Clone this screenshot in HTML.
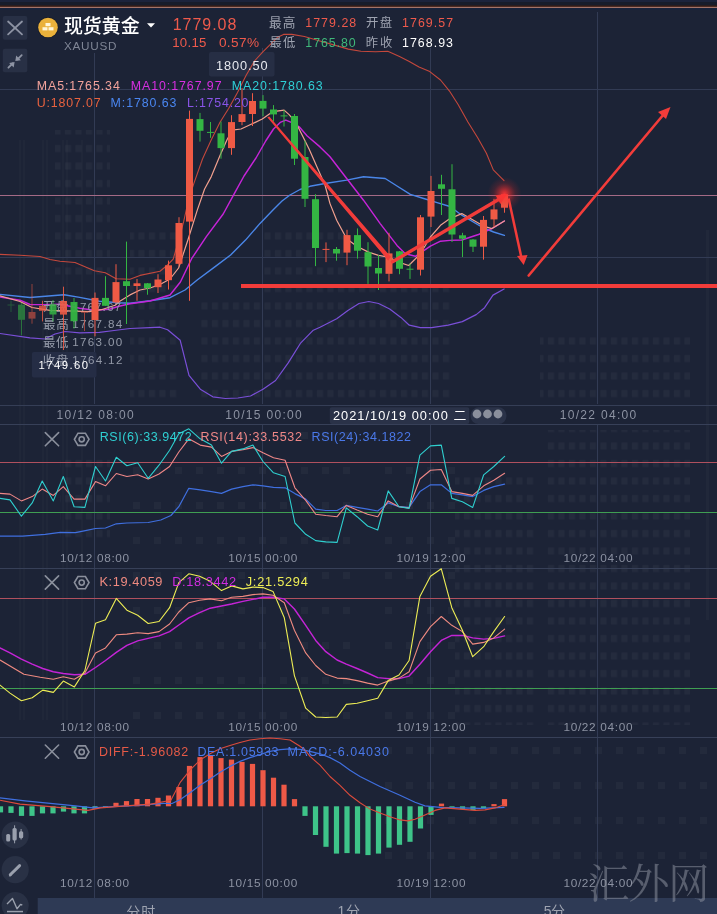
<!DOCTYPE html>
<html><head><meta charset="utf-8">
<style>
html,body{margin:0;padding:0;background:#1c2336;}
body{width:717px;height:914px;position:relative;overflow:hidden;font-family:"Liberation Sans","Noto Sans CJK SC",sans-serif;}
.t{position:absolute;white-space:nowrap;line-height:1;}
svg{position:absolute;left:0;top:0;}
</style></head><body>
<div style="position:absolute;left:0;top:0;width:717px;height:2px;background:#1b233c"></div>
<div style="position:absolute;left:0;top:2px;width:717px;height:3px;background:#171c2b"></div>
<div style="position:absolute;left:0;top:5px;width:717px;height:1px;background:#2a1c1e"></div>
<div style="position:absolute;left:0;top:6px;width:717px;height:1px;background:#4a2a22"></div>
<div style="position:absolute;left:0;top:7px;width:717px;height:1px;background:#a2736a"></div>
<div style="position:absolute;left:0;top:8px;width:717px;height:2px;background:#17223b"></div>
<svg width="717" height="914" viewBox="0 0 717 914">
<defs><pattern id="win" x="0" y="0" width="10.5" height="17.5" patternUnits="userSpaceOnUse"><rect x="2" y="5" width="6" height="7" fill="#ffffff" fill-opacity="0.035"/></pattern><pattern id="win2" x="0" y="0" width="21" height="35" patternUnits="userSpaceOnUse"><rect x="7" y="12" width="7" height="7" fill="#ffffff" fill-opacity="0.03"/></pattern></defs>
<rect x="55" y="130" width="55" height="155" fill="url(#win)"/>
<rect x="130" y="225" width="50" height="179" fill="url(#win)"/>
<rect x="200" y="300" width="62" height="104" fill="url(#win)"/>
<rect x="262" y="225" width="83" height="179" fill="url(#win)"/>
<rect x="345" y="285" width="105" height="119" fill="url(#win)"/>
<rect x="540" y="330" width="150" height="74" fill="url(#win)"/>
<rect x="455" y="470" width="80" height="255" fill="url(#win)"/>
<rect x="544" y="430" width="146" height="295" fill="url(#win)"/>
<rect x="60" y="452" width="50" height="93" fill="url(#win)"/>
<rect x="120" y="430" width="240" height="295" fill="url(#win2)"/>
<rect x="380" y="440" width="75" height="285" fill="url(#win2)"/>
<rect x="380" y="745" width="337" height="125" fill="url(#win2)"/>
<rect x="19" y="140" width="2" height="580" fill="#ffffff" fill-opacity="0.02"/>
<rect x="23" y="140" width="2" height="580" fill="#ffffff" fill-opacity="0.02"/>
<rect x="42" y="140" width="2" height="580" fill="#ffffff" fill-opacity="0.02"/>
<rect x="46" y="140" width="2" height="580" fill="#ffffff" fill-opacity="0.02"/>
<rect x="62" y="140" width="2" height="580" fill="#ffffff" fill-opacity="0.02"/>
<rect x="66" y="140" width="2" height="580" fill="#ffffff" fill-opacity="0.02"/>
<rect x="81" y="140" width="2" height="580" fill="#ffffff" fill-opacity="0.02"/>
<rect x="706" y="230" width="3" height="390" fill="#ffffff" fill-opacity="0.025"/>
<line x1="94.5" y1="53" x2="94.5" y2="404" stroke="#323b54" stroke-width="1"/>
<line x1="94.5" y1="425" x2="94.5" y2="568" stroke="#323b54" stroke-width="1"/>
<line x1="94.5" y1="569" x2="94.5" y2="737" stroke="#323b54" stroke-width="1"/>
<line x1="94.5" y1="738" x2="94.5" y2="898" stroke="#323b54" stroke-width="1"/>
<line x1="262.5" y1="48" x2="262.5" y2="404" stroke="#323b54" stroke-width="1"/>
<line x1="262.5" y1="425" x2="262.5" y2="568" stroke="#323b54" stroke-width="1"/>
<line x1="262.5" y1="569" x2="262.5" y2="737" stroke="#323b54" stroke-width="1"/>
<line x1="262.5" y1="738" x2="262.5" y2="898" stroke="#323b54" stroke-width="1"/>
<line x1="430.5" y1="48" x2="430.5" y2="404" stroke="#323b54" stroke-width="1"/>
<line x1="430.5" y1="425" x2="430.5" y2="568" stroke="#323b54" stroke-width="1"/>
<line x1="430.5" y1="569" x2="430.5" y2="737" stroke="#323b54" stroke-width="1"/>
<line x1="430.5" y1="738" x2="430.5" y2="898" stroke="#323b54" stroke-width="1"/>
<line x1="597.5" y1="12" x2="597.5" y2="404" stroke="#323b54" stroke-width="1"/>
<line x1="597.5" y1="425" x2="597.5" y2="568" stroke="#323b54" stroke-width="1"/>
<line x1="597.5" y1="569" x2="597.5" y2="737" stroke="#323b54" stroke-width="1"/>
<line x1="597.5" y1="738" x2="597.5" y2="898" stroke="#323b54" stroke-width="1"/>
<line x1="0" y1="89.5" x2="717" y2="89.5" stroke="#323b54" stroke-width="1"/>
<line x1="0" y1="257.5" x2="717" y2="257.5" stroke="#323b54" stroke-width="1"/>
<line x1="0" y1="405.5" x2="717" y2="405.5" stroke="#353e56" stroke-width="1"/>
<rect x="209" y="52" width="65.5" height="24.5" rx="2" fill="#262e44"/>
<rect x="31.9" y="352" width="64.6" height="25.5" rx="2" fill="#252d45"/>
<line x1="0" y1="195.5" x2="717" y2="195.5" stroke="#a46a86" stroke-width="1"/>
<line x1="0" y1="424.5" x2="717" y2="424.5" stroke="#374058" stroke-width="1"/>
<line x1="0" y1="568.5" x2="717" y2="568.5" stroke="#374058" stroke-width="1"/>
<line x1="0" y1="737.5" x2="717" y2="737.5" stroke="#374058" stroke-width="1"/>
<line x1="0" y1="462.5" x2="717" y2="462.5" stroke="#b0505e" stroke-width="1"/>
<line x1="0" y1="512.5" x2="717" y2="512.5" stroke="#3f9e52" stroke-width="1"/>
<line x1="0" y1="598.5" x2="717" y2="598.5" stroke="#b0505e" stroke-width="1"/>
<line x1="0" y1="688.5" x2="717" y2="688.5" stroke="#3f9e52" stroke-width="1"/>
<polyline points="0.0,333.5 30.0,337.8 45.0,339.0 55.0,334.0 65.0,331.5 79.7,332.8 99.4,332.3 114.1,330.5 130.0,328.5 150.0,327.6 160.0,327.2 167.6,329.7 180.2,340.3 189.0,375.4 200.3,389.2 212.8,396.8 225.4,398.5 237.9,398.0 250.5,396.0 263.0,389.2 275.6,380.5 288.2,362.9 300.8,342.8 313.3,330.2 320.0,327.2 336.7,318.8 347.9,310.4 359.0,303.5 368.8,301.5 378.6,303.5 389.7,309.0 400.9,317.4 409.3,325.2 420.4,327.7 431.6,327.7 448.3,325.2 462.3,321.6 476.2,314.6 484.6,307.7 493.0,295.1 504.1,289.0" fill="none" stroke="#7a4fd8" stroke-width="1.2" stroke-linejoin="round" stroke-linecap="round" opacity="1"/>
<polyline points="0.0,254.4 20.0,255.2 40.0,256.5 50.0,259.5 60.0,261.2 75.0,262.5 94.4,270.8 105.3,272.8 116.1,278.7 130.0,279.2 140.0,275.4 160.0,271.2 167.0,265.5 173.2,259.1 178.5,241.0 183.7,221.4 188.5,200.0 193.8,183.6 202.5,159.0 211.3,139.8 220.0,122.3 228.8,108.3 237.5,92.5 246.3,75.0 254.5,61.0 262.6,52.2 270.9,43.8 277.2,37.6 283.5,34.4 291.8,34.4 304.4,36.5 319.0,40.7 333.7,44.9 348.3,49.1 360.9,51.2 375.5,51.8 387.8,51.3 399.5,56.6 409.3,61.5 419.0,67.0 429.8,71.6 440.5,80.0 449.3,90.8 458.1,104.5 467.9,122.0 477.7,137.7 486.4,153.3 493.3,169.9 504.0,180.6" fill="none" stroke="#c4483c" stroke-width="1.1" stroke-linejoin="round" stroke-linecap="round" opacity="1"/>
<polyline points="0.0,294.4 30.0,297.5 64.0,294.8 79.7,297.4 99.4,301.3 119.0,302.8 130.0,303.3 150.0,300.8 170.0,297.7 185.0,290.0 197.2,280.0 215.8,266.1 230.6,255.0 245.5,240.1 260.0,223.4 272.0,211.0 282.0,201.0 290.0,195.0 300.0,189.5 310.0,186.3 325.0,183.5 346.7,180.1 363.5,176.8 385.2,178.5 397.0,186.0 410.3,194.4 423.7,198.5 437.1,202.7 450.0,206.5 461.8,215.2 481.8,227.0 493.6,232.0 504.4,235.3" fill="none" stroke="#4a86e8" stroke-width="1.4" stroke-linejoin="round" stroke-linecap="round" opacity="1"/>
<polyline points="0.0,296.9 20.0,300.2 30.0,304.5 45.0,304.6 60.0,304.3 79.7,308.2 94.4,310.2 109.2,309.2 119.0,306.3 130.0,303.8 150.0,301.0 170.0,295.0 180.4,282.0 191.6,258.7 206.5,236.4 223.2,214.0 234.3,193.6 244.0,176.0 256.0,158.0 265.7,141.0 273.5,129.0 280.2,122.4 285.8,120.1 291.3,122.4 299.2,126.8 307.0,135.8 320.0,146.9 330.0,156.7 346.7,178.5 363.5,200.2 380.2,223.6 397.0,245.4 405.3,253.8 415.4,256.3 430.4,246.2 440.5,241.2 450.0,240.4 461.8,240.0 478.5,234.5 491.9,228.6 504.4,221.0" fill="none" stroke="#c624d8" stroke-width="1.45" stroke-linejoin="round" stroke-linecap="round" opacity="1"/>
<polyline points="0.0,295.8 20.0,301.5 32.0,307.5 50.0,310.3 74.8,311.2 89.5,311.7 101.3,309.7 115.1,305.3 121.0,300.4 130.0,294.9 140.0,290.0 150.0,288.0 160.0,284.5 170.0,279.0 178.6,268.0 187.9,240.0 197.2,210.4 204.6,189.0 211.3,176.6 220.0,155.6 227.0,139.8 232.3,130.2 241.0,129.0 251.2,124.3 262.3,119.0 270.1,113.4 276.8,111.2 284.1,110.1 289.1,114.6 295.8,122.4 302.5,135.8 309.2,149.2 317.0,167.0 325.0,185.0 330.0,203.6 336.7,220.3 346.7,238.7 356.8,246.2 368.5,252.1 378.5,255.4 388.6,257.1 398.6,262.1 408.7,265.5 420.4,253.8 430.4,237.0 440.5,225.3 450.0,218.6 461.8,213.6 483.5,226.1 491.9,228.6 504.4,221.0" fill="none" stroke="#f2a08e" stroke-width="1.2" stroke-linejoin="round" stroke-linecap="round" opacity="1"/>
<g font-family="Liberation Sans, Noto Sans CJK SC, sans-serif">
<text x="43.10" y="311.30" font-size="12.50" letter-spacing="0.50" fill="#a0a6b4" opacity="0.9">开盘</text>
<text x="72.35" y="310.55" font-size="11.60" letter-spacing="1.12" fill="#a0a6b4" opacity="0.9">1767.67</text>
<text x="43.10" y="329.10" font-size="12.50" letter-spacing="0.75" fill="#a0a6b4" opacity="0.9">最高</text>
<text x="72.35" y="328.35" font-size="11.60" letter-spacing="1.31" fill="#a0a6b4" opacity="0.9">1767.84</text>
<text x="43.10" y="346.90" font-size="12.50" letter-spacing="0.50" fill="#a0a6b4" opacity="0.9">最低</text>
<text x="72.35" y="346.15" font-size="11.60" letter-spacing="1.31" fill="#a0a6b4" opacity="0.9">1763.00</text>
<text x="42.85" y="365.10" font-size="12.50" letter-spacing="0.75" fill="#a0a6b4" opacity="0.9">收盘</text>
<text x="72.35" y="364.35" font-size="11.60" letter-spacing="1.35" fill="#a0a6b4" opacity="0.9">1764.12</text>
</g>
<g opacity="0.35"><rect x="10.5" y="300.8" width="1" height="11.2" fill="#34b543"/><rect x="7.5" y="304.5" width="7" height="1.0" fill="#34b543"/></g>
<g opacity="0.55"><rect x="21.0" y="303" width="1" height="32.4" fill="#34b543"/><rect x="18.0" y="304.7" width="7" height="15.1" fill="#34b543"/></g>
<g opacity="0.55"><rect x="31.5" y="284" width="1" height="39.7" fill="#ef5a45"/><rect x="28.5" y="312" width="7" height="6.6" fill="#ef5a45"/></g>
<g opacity="0.8"><rect x="42.0" y="300.8" width="1" height="20.6" fill="#ef5a45"/><rect x="39.0" y="305.8" width="7" height="5.0" fill="#ef5a45"/></g>
<g opacity="0.85"><rect x="52.5" y="300" width="1" height="21.4" fill="#34b543"/><rect x="49.5" y="304.1" width="7" height="10.4" fill="#34b543"/></g>
<g opacity="0.9"><rect x="63.0" y="286.7" width="1" height="63.3" fill="#ef5a45"/><rect x="60.0" y="301" width="7" height="13.6" fill="#ef5a45"/></g>
<g opacity="0.95"><rect x="73.5" y="298" width="1" height="30.5" fill="#34b543"/><rect x="70.5" y="302" width="7" height="19.2" fill="#34b543"/></g>
<g opacity="0.6"><rect x="84.0" y="311.5" width="1" height="19.5" fill="#ef5a45"/><rect x="81.0" y="311.7" width="7" height="1.0" fill="#ef5a45"/></g>
<g opacity="1"><rect x="94.5" y="292.5" width="1" height="43.8" fill="#ef5a45"/><rect x="91.5" y="297.9" width="7" height="22.1" fill="#ef5a45"/></g>
<g opacity="1"><rect x="105.0" y="276.2" width="1" height="29.8" fill="#34b543"/><rect x="102.0" y="297.9" width="7" height="7.9" fill="#34b543"/></g>
<g opacity="1"><rect x="115.5" y="264.2" width="1" height="38.8" fill="#ef5a45"/><rect x="112.5" y="282.1" width="7" height="20.3" fill="#ef5a45"/></g>
<g opacity="1"><rect x="126.0" y="241.6" width="1" height="82.4" fill="#34b543"/><rect x="123.0" y="281.2" width="7" height="4.8" fill="#34b543"/></g>
<g opacity="1"><rect x="136.5" y="279" width="1" height="21.8" fill="#ef5a45"/><rect x="133.5" y="283.3" width="7" height="2.7" fill="#ef5a45"/></g>
<g opacity="1"><rect x="147.0" y="283" width="1" height="11.7" fill="#34b543"/><rect x="144.0" y="283.3" width="7" height="4.9" fill="#34b543"/></g>
<g opacity="1"><rect x="157.5" y="274.2" width="1" height="18.8" fill="#ef5a45"/><rect x="154.5" y="279.5" width="7" height="7.7" fill="#ef5a45"/></g>
<g opacity="1"><rect x="168.0" y="260.6" width="1" height="28.9" fill="#ef5a45"/><rect x="165.0" y="265.3" width="7" height="14.9" fill="#ef5a45"/></g>
<g opacity="1"><rect x="178.5" y="217.2" width="1" height="48.6" fill="#ef5a45"/><rect x="175.5" y="223" width="7" height="40.8" fill="#ef5a45"/></g>
<g opacity="1"><rect x="189.0" y="110.6" width="1" height="190.2" fill="#ef5a45"/><rect x="186.0" y="118.9" width="7" height="102.7" fill="#ef5a45"/></g>
<g opacity="1"><rect x="199.5" y="112.9" width="1" height="28.7" fill="#34b543"/><rect x="196.5" y="119.1" width="7" height="11.7" fill="#34b543"/></g>
<g opacity="1"><rect x="210.0" y="122" width="1" height="15.8" fill="#34b543"/><rect x="207.0" y="131.9" width="7" height="1.0" fill="#34b543"/></g>
<g opacity="1"><rect x="220.5" y="121.5" width="1" height="37.2" fill="#34b543"/><rect x="217.5" y="133.3" width="7" height="14.8" fill="#34b543"/></g>
<g opacity="1"><rect x="231.0" y="115.2" width="1" height="39.6" fill="#ef5a45"/><rect x="228.0" y="122.1" width="7" height="26.0" fill="#ef5a45"/></g>
<g opacity="1"><rect x="241.5" y="88" width="1" height="37.2" fill="#ef5a45"/><rect x="238.5" y="114.1" width="7" height="7.9" fill="#ef5a45"/></g>
<g opacity="1"><rect x="252.0" y="93.2" width="1" height="32.8" fill="#ef5a45"/><rect x="249.0" y="101" width="7" height="13.0" fill="#ef5a45"/></g>
<g opacity="1"><rect x="262.5" y="95.1" width="1" height="21.1" fill="#34b543"/><rect x="259.5" y="100.9" width="7" height="7.7" fill="#34b543"/></g>
<g opacity="1"><rect x="273.0" y="105.1" width="1" height="16.4" fill="#34b543"/><rect x="270.0" y="109.5" width="7" height="4.9" fill="#34b543"/></g>
<g opacity="1"><rect x="283.5" y="110" width="1" height="16.5" fill="#34b543"/><rect x="280.5" y="115.4" width="7" height="1.0" fill="#34b543"/></g>
<g opacity="1"><rect x="294.0" y="114" width="1" height="51.0" fill="#34b543"/><rect x="291.0" y="116" width="7" height="42.7" fill="#34b543"/></g>
<g opacity="1"><rect x="304.5" y="140.8" width="1" height="66.2" fill="#34b543"/><rect x="301.5" y="157" width="7" height="41.8" fill="#34b543"/></g>
<g opacity="1"><rect x="315.0" y="194.2" width="1" height="71.9" fill="#34b543"/><rect x="312.0" y="199.2" width="7" height="48.8" fill="#34b543"/></g>
<g opacity="1"><rect x="325.5" y="242.4" width="1" height="19.7" fill="#ef5a45"/><rect x="322.5" y="248.9" width="7" height="1.0" fill="#ef5a45"/></g>
<g opacity="1"><rect x="336.0" y="247" width="1" height="13.7" fill="#34b543"/><rect x="333.0" y="249" width="7" height="4.5" fill="#34b543"/></g>
<g opacity="1"><rect x="346.5" y="229.8" width="1" height="35.4" fill="#ef5a45"/><rect x="343.5" y="235.1" width="7" height="17.5" fill="#ef5a45"/></g>
<g opacity="1"><rect x="357.0" y="228.4" width="1" height="30.2" fill="#34b543"/><rect x="354.0" y="235.1" width="7" height="15.6" fill="#34b543"/></g>
<g opacity="1"><rect x="367.5" y="242.2" width="1" height="41.7" fill="#34b543"/><rect x="364.5" y="252.2" width="7" height="14.3" fill="#34b543"/></g>
<g opacity="1"><rect x="378.0" y="255.1" width="1" height="34.9" fill="#34b543"/><rect x="375.0" y="268" width="7" height="5.5" fill="#34b543"/></g>
<g opacity="1"><rect x="388.5" y="232.8" width="1" height="48.6" fill="#ef5a45"/><rect x="385.5" y="253.4" width="7" height="20.4" fill="#ef5a45"/></g>
<g opacity="1"><rect x="399.0" y="251" width="1" height="23.2" fill="#34b543"/><rect x="396.0" y="251.3" width="7" height="17.5" fill="#34b543"/></g>
<g opacity="1"><rect x="409.5" y="263.5" width="1" height="15.4" fill="#34b543"/><rect x="406.5" y="268.7" width="7" height="1.0" fill="#34b543"/></g>
<g opacity="1"><rect x="420.0" y="215" width="1" height="60.5" fill="#ef5a45"/><rect x="417.0" y="217.3" width="7" height="52.4" fill="#ef5a45"/></g>
<g opacity="1"><rect x="430.5" y="175.9" width="1" height="51.1" fill="#ef5a45"/><rect x="427.5" y="191" width="7" height="25.6" fill="#ef5a45"/></g>
<g opacity="1"><rect x="441.0" y="174.8" width="1" height="40.2" fill="#34b543"/><rect x="438.0" y="184.3" width="7" height="4.5" fill="#34b543"/></g>
<g opacity="1"><rect x="451.5" y="164.2" width="1" height="77.8" fill="#34b543"/><rect x="448.5" y="189.3" width="7" height="45.2" fill="#34b543"/></g>
<g opacity="1"><rect x="462.0" y="232.8" width="1" height="24.2" fill="#34b543"/><rect x="459.0" y="235.3" width="7" height="3.4" fill="#34b543"/></g>
<g opacity="1"><rect x="472.5" y="239" width="1" height="13.0" fill="#34b543"/><rect x="469.5" y="239.5" width="7" height="7.2" fill="#34b543"/></g>
<g opacity="1"><rect x="483.0" y="216" width="1" height="43.6" fill="#ef5a45"/><rect x="480.0" y="219.9" width="7" height="26.8" fill="#ef5a45"/></g>
<g opacity="1"><rect x="493.5" y="198.8" width="1" height="28.2" fill="#ef5a45"/><rect x="490.5" y="209.4" width="7" height="10.0" fill="#ef5a45"/></g>
<g opacity="1"><rect x="504.0" y="194" width="1" height="18.7" fill="#ef5a45"/><rect x="501.0" y="194.3" width="7" height="13.4" fill="#ef5a45"/></g>
<polygon points="267.3,117.2 269.3,116.6 390.8,256.8 388.2,260.8 386.4,258.4" fill="#f23c3a"/>
<line x1="392.5" y1="261.8" x2="499" y2="199.2" stroke="#f23c3a" stroke-width="3.4" stroke-linecap="round"/>
<polygon points="507,194 495.5,195.2 500.5,204" fill="#f23c3a"/>
<defs><radialGradient id="glow"><stop offset="0" stop-color="#ff3434" stop-opacity="0.95"/><stop offset="0.3" stop-color="#ff3030" stop-opacity="0.55"/><stop offset="0.65" stop-color="#e02828" stop-opacity="0.18"/><stop offset="1" stop-color="#e02828" stop-opacity="0"/></radialGradient></defs>
<circle cx="504.5" cy="194" r="17" fill="url(#glow)"/>
<line x1="508.6" y1="198.5" x2="521.5" y2="258" stroke="#f23c3a" stroke-width="2.5"/>
<polygon points="517,256 527.5,255 523.7,265" fill="#f23c3a"/>
<line x1="528.7" y1="275.5" x2="664" y2="114" stroke="#f23c3a" stroke-width="2.6" stroke-linecap="round"/>
<polygon points="670.5,107 658,112 666,119" fill="#f23c3a"/>
<rect x="241" y="284" width="476" height="4" fill="#f23c3a"/>
<polyline points="0.0,536.1 22.6,536.1 45.2,534.3 60.3,532.3 75.4,532.6 85.4,530.6 95.5,528.5 105.5,528.0 116.3,523.8 126.9,523.0 148.2,522.5 160.8,520.0 170.9,515.5 178.8,506.7 188.8,488.3 200.2,489.8 211.5,491.6 221.5,493.4 231.6,489.1 242.9,486.6 252.9,484.8 263.0,485.8 273.5,487.3 285.1,487.8 294.9,493.6 305.7,499.1 315.7,509.2 325.8,510.5 337.1,510.5 346.3,505.4 357.1,507.4 367.6,509.2 377.7,511.0 388.2,502.9 399.0,506.7 409.1,507.4 419.9,491.6 430.5,484.8 441.3,484.8 451.8,493.4 462.4,494.9 472.7,496.6 483.7,490.4 493.8,486.6 504.6,484.1" fill="none" stroke="#3f6fdf" stroke-width="1.2" stroke-linejoin="round" stroke-linecap="round" opacity="1"/>
<polyline points="0.0,493.4 10.0,494.1 21.4,500.9 32.2,496.6 42.2,489.1 53.3,495.4 63.3,486.6 74.1,499.1 84.9,499.1 95.5,481.6 105.5,485.8 116.3,473.5 126.9,476.5 137.7,474.8 148.2,479.0 159.0,474.0 169.6,466.5 178.8,452.0 188.8,438.8 200.2,445.1 211.5,447.1 221.5,456.4 231.6,451.4 242.9,449.6 252.9,447.6 263.0,452.7 273.5,457.7 285.1,460.2 294.9,487.8 305.7,500.4 315.7,514.2 325.8,515.5 337.1,516.7 346.3,505.4 357.1,510.0 367.6,514.2 377.7,516.7 388.2,500.9 399.0,506.7 409.1,507.9 419.9,479.0 430.5,470.3 441.3,469.5 451.8,491.6 462.4,493.4 472.7,495.4 483.7,485.8 493.8,480.3 504.6,473.3" fill="none" stroke="#ef8787" stroke-width="1.1" stroke-linejoin="round" stroke-linecap="round" opacity="1"/>
<polyline points="0.0,498.4 10.0,499.9 21.4,516.2 32.2,502.9 42.2,481.0 53.3,500.9 63.3,476.5 74.1,506.7 84.9,507.4 95.5,466.5 105.5,481.0 116.3,457.2 126.9,465.7 137.7,462.7 148.2,478.3 159.0,465.2 169.6,450.2 178.8,433.8 188.8,428.8 200.2,438.8 211.5,445.1 221.5,463.2 231.6,451.4 242.9,448.9 252.9,445.1 263.0,461.5 273.5,472.8 285.1,476.5 294.9,523.0 305.7,534.3 315.7,540.6 325.8,541.9 337.1,542.4 346.3,507.9 357.1,516.7 367.6,526.0 377.7,530.0 388.2,490.9 399.0,506.7 409.1,508.4 419.9,455.2 430.5,445.9 441.3,445.1 451.8,498.4 462.4,501.7 472.7,507.4 483.7,474.8 493.8,466.5 504.6,456.4" fill="none" stroke="#2fcfcf" stroke-width="1.1" stroke-linejoin="round" stroke-linecap="round" opacity="1"/>
<polyline points="0.0,647.9 10.0,652.9 21.4,659.2 32.2,664.2 42.7,668.5 53.3,671.8 63.3,673.5 74.4,674.8 84.9,674.3 95.5,667.5 105.5,660.5 116.3,652.4 126.9,645.4 137.7,640.9 148.2,638.4 159.0,635.9 169.6,631.6 178.8,625.0 188.8,617.8 199.6,612.7 210.2,608.2 221.5,606.0 231.6,604.0 242.9,601.4 252.9,599.4 263.0,597.2 273.0,597.2 284.3,598.9 294.4,609.0 305.7,625.3 315.7,640.4 325.8,651.7 337.1,660.0 346.3,664.2 357.1,668.5 367.6,673.0 377.7,677.6 388.2,678.6 399.0,678.6 409.1,676.1 419.9,664.2 430.5,651.7 441.3,640.4 451.8,635.4 462.4,635.4 472.7,637.9 483.7,639.1 493.8,638.4 504.6,635.9" fill="none" stroke="#c424d6" stroke-width="1.45" stroke-linejoin="round" stroke-linecap="round" opacity="1"/>
<polyline points="0.0,660.0 23.9,674.3 40.2,677.3 53.3,679.3 63.3,676.8 74.4,679.3 84.9,673.0 95.5,652.9 105.5,647.9 116.3,634.8 126.9,634.1 137.7,632.8 148.2,633.6 159.0,631.6 169.6,624.0 178.8,612.0 188.8,602.7 199.6,600.2 210.2,598.9 221.5,600.7 231.6,597.2 242.9,596.4 252.9,594.6 263.0,593.9 273.0,595.2 284.3,602.7 294.4,630.3 305.7,652.9 315.7,665.5 325.8,674.3 337.1,678.1 346.3,678.6 357.1,680.6 367.6,683.1 377.7,685.1 388.2,681.1 399.0,678.1 409.1,671.8 419.9,641.6 430.5,626.6 441.3,616.5 451.8,625.3 462.4,631.6 472.7,644.1 483.7,642.4 493.8,637.9 504.6,629.1" fill="none" stroke="#ef8a80" stroke-width="1.1" stroke-linejoin="round" stroke-linecap="round" opacity="1"/>
<polyline points="0.0,685.1 10.0,693.1 21.4,700.7 32.2,697.7 42.7,690.1 53.3,692.4 63.3,681.1 74.4,686.9 84.9,670.5 95.5,623.3 105.5,619.8 116.3,598.4 126.9,610.2 137.7,615.3 148.2,623.5 159.0,621.5 169.6,607.7 178.8,582.6 188.8,573.8 199.6,576.3 210.2,581.3 221.5,590.6 231.6,585.9 242.9,588.9 252.9,587.1 263.0,587.6 273.0,591.4 284.3,617.8 294.4,675.6 305.7,708.2 315.7,717.0 325.8,717.5 337.1,717.0 346.3,704.4 357.1,703.2 367.6,700.7 377.7,698.2 388.2,680.6 399.0,675.0 409.1,660.5 419.9,596.4 430.5,576.3 441.3,568.8 451.8,607.7 462.4,630.3 472.7,656.7 483.7,646.7 493.8,631.6 504.6,616.5" fill="none" stroke="#eded55" stroke-width="1.1" stroke-linejoin="round" stroke-linecap="round" opacity="1"/>
<rect x="-2.1" y="806.3" width="5.2" height="6.1" fill="#3ec489"/>
<rect x="8.4" y="806.3" width="5.2" height="6.6" fill="#3ec489"/>
<rect x="18.9" y="806.3" width="5.2" height="9.6" fill="#3ec489"/>
<rect x="29.4" y="806.3" width="5.2" height="9.6" fill="#3ec489"/>
<rect x="39.9" y="806.3" width="5.2" height="7.1" fill="#3ec489"/>
<rect x="50.4" y="806.3" width="5.2" height="7.1" fill="#3ec489"/>
<rect x="60.9" y="806.3" width="5.2" height="5.3" fill="#3ec489"/>
<rect x="71.4" y="806.3" width="5.2" height="7.1" fill="#3ec489"/>
<rect x="81.9" y="806.3" width="5.2" height="7.1" fill="#3ec489"/>
<rect x="92.4" y="806.3" width="5.2" height="2.2" fill="#5ab7b0"/>
<rect x="102.9" y="806.3" width="5.2" height="1.5" fill="#5ab7b0"/>
<rect x="113.4" y="802.8" width="5.2" height="3.5" fill="#ee5947"/>
<rect x="123.9" y="801.1" width="5.2" height="5.2" fill="#ee5947"/>
<rect x="134.4" y="799.0" width="5.2" height="7.3" fill="#ee5947"/>
<rect x="144.9" y="799.0" width="5.2" height="7.3" fill="#ee5947"/>
<rect x="155.4" y="797.8" width="5.2" height="8.5" fill="#ee5947"/>
<rect x="165.9" y="795.5" width="5.2" height="10.8" fill="#ee5947"/>
<rect x="176.4" y="787.0" width="5.2" height="19.3" fill="#ee5947"/>
<rect x="186.9" y="765.9" width="5.2" height="40.4" fill="#ee5947"/>
<rect x="197.4" y="757.1" width="5.2" height="49.2" fill="#ee5947"/>
<rect x="207.9" y="755.1" width="5.2" height="51.2" fill="#ee5947"/>
<rect x="218.4" y="758.1" width="5.2" height="48.2" fill="#ee5947"/>
<rect x="228.9" y="759.6" width="5.2" height="46.7" fill="#ee5947"/>
<rect x="239.4" y="761.9" width="5.2" height="44.4" fill="#ee5947"/>
<rect x="249.9" y="763.9" width="5.2" height="42.4" fill="#ee5947"/>
<rect x="260.4" y="770.2" width="5.2" height="36.1" fill="#ee5947"/>
<rect x="270.9" y="777.7" width="5.2" height="28.6" fill="#ee5947"/>
<rect x="281.4" y="784.7" width="5.2" height="21.6" fill="#ee5947"/>
<rect x="291.9" y="799.1" width="5.2" height="7.2" fill="#ee5947"/>
<rect x="302.4" y="806.3" width="5.2" height="9.6" fill="#3ec489"/>
<rect x="312.9" y="806.3" width="5.2" height="28.7" fill="#3ec489"/>
<rect x="323.4" y="806.3" width="5.2" height="40.5" fill="#3ec489"/>
<rect x="333.9" y="806.3" width="5.2" height="47.3" fill="#3ec489"/>
<rect x="344.4" y="806.3" width="5.2" height="46.8" fill="#3ec489"/>
<rect x="354.9" y="806.3" width="5.2" height="47.3" fill="#3ec489"/>
<rect x="365.4" y="806.3" width="5.2" height="48.8" fill="#3ec489"/>
<rect x="375.9" y="806.3" width="5.2" height="47.3" fill="#3ec489"/>
<rect x="386.4" y="806.3" width="5.2" height="41.3" fill="#3ec489"/>
<rect x="396.9" y="806.3" width="5.2" height="38.5" fill="#3ec489"/>
<rect x="407.4" y="806.3" width="5.2" height="35.5" fill="#3ec489"/>
<rect x="417.9" y="806.3" width="5.2" height="22.2" fill="#3ec489"/>
<rect x="428.4" y="806.3" width="5.2" height="8.6" fill="#3ec489"/>
<rect x="438.9" y="803.6" width="5.2" height="2.7" fill="#ee5947"/>
<rect x="449.4" y="806.3" width="5.2" height="2.1" fill="#3ec489"/>
<rect x="459.9" y="806.3" width="5.2" height="2.8" fill="#3ec489"/>
<rect x="470.4" y="806.3" width="5.2" height="3.6" fill="#3ec489"/>
<rect x="480.9" y="806.3" width="5.2" height="2.1" fill="#3ec489"/>
<rect x="491.4" y="804.1" width="5.2" height="2.2" fill="#ee5947"/>
<rect x="501.9" y="799.1" width="5.2" height="7.2" fill="#ee5947"/>
<polyline points="0.0,797.8 25.0,800.8 50.3,803.3 75.4,805.9 93.0,807.9 113.0,806.6 138.2,805.4 163.3,803.3 172.0,803.5 180.0,799.8 190.0,792.8 200.0,785.3 210.0,779.0 220.0,772.2 230.0,766.4 240.0,761.4 250.0,757.6 260.0,754.6 270.0,751.3 280.0,749.6 290.0,748.8 300.0,749.3 310.0,751.3 320.0,753.8 330.0,757.6 340.0,763.0 350.0,770.2 360.0,776.5 380.0,786.5 400.0,795.3 415.0,802.3 425.0,805.9 440.0,807.4 460.0,807.9 480.0,808.4 504.0,807.4" fill="none" stroke="#3f6fdf" stroke-width="1.2" stroke-linejoin="round" stroke-linecap="round" opacity="1"/>
<polyline points="0.0,800.3 20.0,804.1 50.3,806.6 75.4,809.1 88.0,810.4 100.5,807.9 125.6,805.9 150.8,804.1 170.9,800.3 180.0,782.7 190.0,770.2 200.0,760.1 210.0,753.8 220.0,748.8 230.0,745.6 240.0,742.5 250.0,740.0 260.0,738.8 270.0,738.0 280.0,738.8 290.0,740.0 300.0,746.3 305.0,750.0 310.0,756.4 320.0,765.2 330.0,776.5 340.0,785.3 350.0,795.3 360.0,802.8 370.0,809.1 380.0,812.9 390.0,816.7 400.0,819.9 408.0,820.9 415.0,819.2 425.0,814.9 435.0,810.4 445.0,807.9 460.0,809.1 475.0,810.4 485.0,809.9 495.0,807.9 504.0,804.8" fill="none" stroke="#dc4b3c" stroke-width="1.1" stroke-linejoin="round" stroke-linecap="round" opacity="1"/>
</svg>
<svg width="717" height="914" viewBox="0 0 717 914" style="position:absolute;left:0;top:0" font-family="Liberation Sans, Noto Sans CJK SC, sans-serif">
<!-- header buttons -->
<rect x="2.8" y="15.9" width="24.5" height="23.8" rx="2" fill="#283045"/>
<path d="M8.1 21.5 L22 34.4 M22 21.5 L8.1 34.4" stroke="#8d93a3" stroke-width="1.8" stroke-linecap="round"/>
<rect x="2.8" y="48.8" width="24.5" height="23.4" rx="2" fill="#283045"/>
<path d="M21.7 55.1 L17.5 59.3 M8.4 67.7 L12.6 63.5" stroke="#8d93a3" stroke-width="1.8" stroke-linecap="round"/>
<polygon points="15.3,61.1 16.2,55.6 20.8,60.2" fill="#8d93a3"/>
<polygon points="14.6,62.1 13.7,67.6 9.1,63" fill="#8d93a3"/>
<!-- coin -->
<circle cx="48" cy="27.5" r="10.5" fill="#151a28"/>
<circle cx="48" cy="27.5" r="9.8" fill="#eab13b"/>
<rect x="45.5" y="23" width="5" height="3.2" fill="#fff6d8"/>
<rect x="42.5" y="27.2" width="5" height="3.2" fill="#fff6d8"/>
<rect x="48.5" y="27.2" width="5" height="3.2" fill="#fff6d8"/>
<polygon points="147,23.2 155,23.2 151,27.4" fill="#ffffff"/>
<!-- max label -->
<!-- legends -->
<!-- tooltip text -->
<!-- time axis main -->
<rect x="329.8" y="407.3" width="139.4" height="16.7" rx="2" fill="#2a3248"/>
<rect x="470.5" y="407.3" width="36" height="16.7" rx="8" fill="#2a3248"/>
<circle cx="477" cy="414" r="4.4" fill="#8a8f9c"/>
<circle cx="487.5" cy="414" r="4.4" fill="#8a8f9c"/>
<circle cx="498" cy="414" r="4.4" fill="#8a8f9c"/>
<!-- panel icons -->
<g stroke="#8a8f9c" stroke-width="1.6" fill="none" stroke-linecap="round">
<path d="M45.3 432.6 L58.6 445.8 M58.6 432.6 L45.3 445.8"/>
<path d="M45.3 575.9 L58.6 589.1 M58.6 575.9 L45.3 589.1"/>
<path d="M45.3 745 L58.6 758.2 M58.6 745 L45.3 758.2"/>
<polygon points="78,433.2 85.4,433.2 89,439.3 85.4,445.4 78,445.4 74.4,439.3"/>
<circle cx="81.7" cy="439.3" r="2.6"/>
<polygon points="78,576.5 85.4,576.5 89,582.6 85.4,588.7 78,588.7 74.4,582.6"/>
<circle cx="81.7" cy="582.6" r="2.6"/>
<polygon points="78,745.9 85.4,745.9 89,752 85.4,758.1 78,758.1 74.4,752"/>
<circle cx="81.7" cy="752" r="2.6"/>
</g>
<!-- left icons -->
<circle cx="15.2" cy="835" r="13.6" fill="#293145"/>
<g fill="#9aa0ad">
<rect x="6.2" y="834" width="4" height="7.6" rx="1.5"/>
<rect x="12.5" y="828" width="4.2" height="12.5" rx="1.5"/><rect x="14.1" y="825.3" width="1" height="18"/>
<rect x="19" y="831.3" width="4.2" height="7" rx="1.5"/><rect x="20.6" y="829" width="1" height="10.5"/>
</g>
<circle cx="15.2" cy="869.7" r="13.6" fill="#293145"/>
<path d="M10.3 874.8 L19.6 865.6" stroke="#9aa0ad" stroke-width="3" stroke-linecap="round"/>
<polygon points="8.9,876.6 9.6,873.6 11.8,875.8" fill="#9aa0ad"/>
<circle cx="15.2" cy="905.5" r="13.6" fill="#293145"/>
<path d="M7 904 L12.5 898.5 L17 908.8 L20.6 904.4 L22.3 905.2" stroke="#9aa0ad" stroke-width="1.4" fill="none" stroke-linejoin="round"/>
<rect x="7" y="910.8" width="16" height="1.5" fill="#9aa0ad"/>
<!-- bottom bar -->
<rect x="37.7" y="898" width="680" height="16" fill="#2e3a55"/>
</svg>

<svg width="717" height="914" viewBox="0 0 717 914" style="position:absolute;left:0;top:0" font-family="Liberation Sans, Noto Sans CJK SC, sans-serif">
<text x="63.95" y="32.75" font-size="19.00" font-weight="500" letter-spacing="-0.08" fill="#ffffff">现货黄金</text>
<text x="63.95" y="50.35" font-size="11.73" letter-spacing="0.73" fill="#7f8595">XAUUSD</text>
<text x="172.65" y="29.75" font-size="16.00" letter-spacing="0.98" fill="#ef5a4c">1779.08</text>
<text x="172.20" y="46.85" font-size="13.23" letter-spacing="0.28" fill="#ef5a4c">10.15</text>
<text x="218.90" y="47.05" font-size="13.64" letter-spacing="0.40" fill="#ef5a4c">0.57%</text>
<text x="269.00" y="27.10" font-size="12.68" letter-spacing="1.10" fill="#9ea3b0">最高</text>
<text x="305.30" y="27.15" font-size="12.37" letter-spacing="1.04" fill="#ef5a4c">1779.28</text>
<text x="366.00" y="27.10" font-size="12.41" letter-spacing="1.35" fill="#9ea3b0">开盘</text>
<text x="402.00" y="27.15" font-size="12.37" letter-spacing="1.08" fill="#ef5a4c">1769.57</text>
<text x="269.50" y="47.20" font-size="12.29" letter-spacing="1.20" fill="#9ea3b0">最低</text>
<text x="305.30" y="46.55" font-size="12.37" letter-spacing="0.96" fill="#3fb97a">1765.80</text>
<text x="365.80" y="47.20" font-size="12.29" letter-spacing="1.95" fill="#9ea3b0">昨收</text>
<text x="402.00" y="46.55" font-size="12.37" letter-spacing="1.04" fill="#ffffff">1768.93</text>
<text x="215.90" y="69.85" font-size="12.78" letter-spacing="0.93" fill="#e6e8ee">1800.50</text>
<text x="36.70" y="89.85" font-size="12.37" letter-spacing="0.96" fill="#f3a39c">MA5:1765.34</text>
<text x="130.70" y="89.85" font-size="12.37" letter-spacing="0.95" fill="#d82fe2">MA10:1767.97</text>
<text x="231.80" y="89.85" font-size="12.37" letter-spacing="0.95" fill="#2fd0d6">MA20:1780.63</text>
<text x="36.70" y="107.45" font-size="12.37" letter-spacing="0.86" fill="#e8623f">U:1807.07</text>
<text x="110.60" y="107.45" font-size="12.37" letter-spacing="0.93" fill="#4a86f0">M:1780.63</text>
<text x="187.00" y="107.45" font-size="12.37" letter-spacing="0.81" fill="#8a55e8">L:1754.20</text>
<text x="56.55" y="419.25" font-size="12.00" letter-spacing="1.37" fill="#8c92a2">10/12 08:00</text>
<text x="225.15" y="419.25" font-size="12.00" letter-spacing="1.32" fill="#8c92a2">10/15 00:00</text>
<text x="559.75" y="419.25" font-size="12.00" letter-spacing="1.31" fill="#8c92a2">10/22 04:00</text>
<text x="332.90" y="419.85" font-size="12.80" letter-spacing="1.02" fill="#ffffff">2021/10/19 00:00 二</text>
<text x="99.80" y="441.30" font-size="12.50" letter-spacing="0.54" fill="#2fcfd2">RSI(6):33.9472</text>
<text x="200.50" y="441.30" font-size="12.50" letter-spacing="0.69" fill="#ef8787">RSI(14):33.5532</text>
<text x="311.60" y="441.30" font-size="12.50" letter-spacing="0.54" fill="#4a78e8">RSI(24):34.1822</text>
<text x="99.50" y="586.35" font-size="12.78" letter-spacing="0.59" fill="#ef8a80">K:19.4059</text>
<text x="172.20" y="586.35" font-size="12.78" letter-spacing="0.61" fill="#d02ce0">D:18.3442</text>
<text x="245.75" y="586.35" font-size="12.78" letter-spacing="0.74" fill="#eded55">J:21.5294</text>
<text x="99.10" y="755.95" font-size="12.50" letter-spacing="0.71" fill="#e65a47">DIFF:-1.96082</text>
<text x="197.40" y="755.95" font-size="12.50" letter-spacing="0.68" fill="#4a78e8">DEA:1.05933</text>
<text x="287.50" y="755.95" font-size="12.50" letter-spacing="0.98" fill="#4a78e8">MACD:-6.04030</text>
<text x="60.05" y="561.65" font-size="11.80" letter-spacing="0.68" fill="#8c92a2">10/12 08:00</text>
<text x="228.25" y="561.65" font-size="11.80" letter-spacing="0.67" fill="#8c92a2">10/15 00:00</text>
<text x="396.55" y="561.65" font-size="11.80" letter-spacing="0.67" fill="#8c92a2">10/19 12:00</text>
<text x="563.45" y="561.65" font-size="11.80" letter-spacing="0.67" fill="#8c92a2">10/22 04:00</text>
<text x="60.05" y="730.85" font-size="11.80" letter-spacing="0.68" fill="#8c92a2">10/12 08:00</text>
<text x="228.25" y="730.85" font-size="11.80" letter-spacing="0.67" fill="#8c92a2">10/15 00:00</text>
<text x="396.55" y="730.85" font-size="11.80" letter-spacing="0.67" fill="#8c92a2">10/19 12:00</text>
<text x="563.45" y="730.85" font-size="11.80" letter-spacing="0.67" fill="#8c92a2">10/22 04:00</text>
<text x="60.05" y="886.55" font-size="11.80" letter-spacing="0.68" fill="#8c92a2">10/12 08:00</text>
<text x="228.25" y="886.55" font-size="11.80" letter-spacing="0.67" fill="#8c92a2">10/15 00:00</text>
<text x="396.55" y="886.55" font-size="11.80" letter-spacing="0.67" fill="#8c92a2">10/19 12:00</text>
<text x="563.45" y="886.55" font-size="11.80" letter-spacing="0.67" fill="#8c92a2">10/22 04:00</text>
<text x="38.55" y="368.75" font-size="11.32" letter-spacing="1.44" fill="#ffffff">1749.60</text>
<text x="126.15" y="917.45" font-size="14.00" letter-spacing="1.20" fill="#9ea3b0">分时</text>
<text x="337.40" y="916.15" font-size="14.00" letter-spacing="0.70" fill="#9ea3b0">1分</text>
<text x="543.70" y="916.25" font-size="14.00" letter-spacing="-0.35" fill="#9ea3b0">5分</text>
<text x="588.25" y="897.75" font-size="41.23" font-family="Liberation Serif, Noto Serif CJK SC, serif" letter-spacing="-1.18" fill="#8a8f9c" opacity="0.55">汇外网</text>
</svg>
</body></html>
